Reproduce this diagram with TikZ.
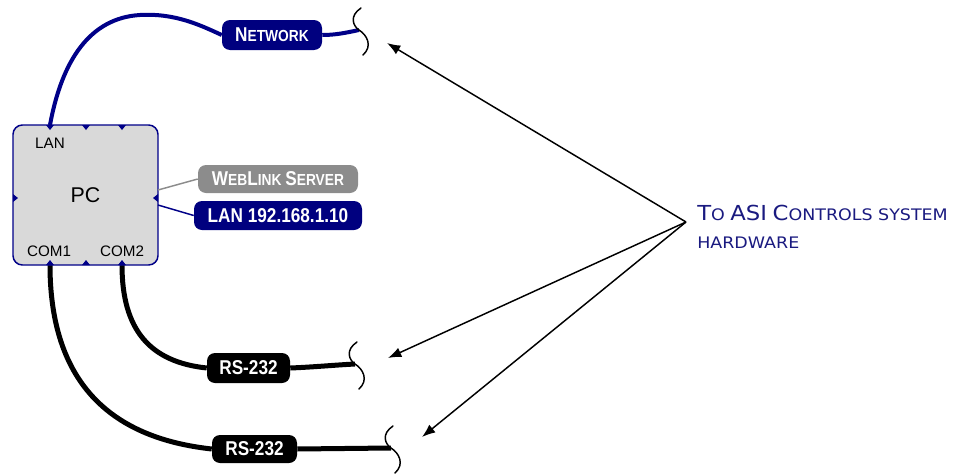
\documentclass[tikz,border=0pt]{standalone}
\usepackage{fontspec}
\setmainfont{Liberation Sans}
\newfontfamily\lblfont{Liberation Sans}[FakeStretch=0.86]
\newfontfamily\asifont{DejaVu Sans}[FakeStretch=1.1]
\usetikzlibrary{arrows.meta}
\definecolor{cablenavy}{HTML}{000088}
\definecolor{tagnavy}{HTML}{00007F}
\definecolor{taggray}{HTML}{8C8C8C}
\definecolor{pcfill}{HTML}{D9D9D9}
\definecolor{asitext}{HTML}{1A1A80}
\newcommand\Lg[1]{{\fontsize{15}{15}\selectfont#1}}
\newcommand\Bg[1]{{\fontsize{15.5}{21}\selectfont#1}}
\tikzset{
  tagbox/.style={rounded corners=6pt, text=white, inner sep=0pt,
    font=\lblfont\bfseries\fontsize{12}{12}\selectfont},
  navytag/.style={tagbox, fill=tagnavy},
  graytag/.style={tagbox, fill=taggray},
  blacktag/.style={tagbox, fill=black},
  pcbox/.style={draw=cablenavy, fill=pcfill, line width=1.1pt, rounded corners=7pt,
    font=\fontsize{16}{16}\selectfont},
  portlbl/.style={font=\fontsize{11.4}{12}\selectfont, inner sep=0pt},
  netcable/.style={draw=cablenavy, line width=3pt},
  sercable/.style={draw=black, line width=3.75pt},
  pointer/.style={draw=black, line width=1.1pt, -{Latex[length=10pt,width=7.5pt]}},
  squig/.pic={\draw[line width=1.1pt, line cap=round] (2,-22) .. controls (-10,-14) and (-6,-4) .. (0,0) .. controls (8,5) and (14,16) .. (4,25);},
  marker/.style={fill=cablenavy}
}
\begin{document}
\begin{tikzpicture}[x=0.75pt, y=-0.75pt]
\useasboundingbox (0,0) rectangle (965,475);

% ports and cable ends
\coordinate (lanport) at (50,125);
\coordinate (com1port) at (50,265);
\coordinate (com2port) at (122,265);
\coordinate (netend) at (359,30);
\coordinate (rs1end) at (355,364);
\coordinate (rs2end) at (391,448);
\coordinate (src) at (686,222);
\coordinate (tipnet) at (387,43);
\coordinate (tiprs1) at (388,358);
\coordinate (tiprs2) at (422,437);
\coordinate (pcright1) at (158,190);
\coordinate (pcright2) at (158,205);

% tags
\node[navytag, minimum width=75pt, minimum height=22.5pt] (net) at (272,35) {\Lg{N}ETWORK};
\node[graytag, minimum width=120pt, minimum height=21pt] (web) at (278,179) {\Lg{W}EB\Lg{L}INK \Lg{S}ERVER};
\node[navytag, minimum width=126pt, minimum height=21.75pt] (lan) at (278,215.5) {\Lg{LAN 192.168.1.10}};
\node[blacktag, minimum width=62.25pt, minimum height=22.5pt] (rs1) at (248.5,368) {\Lg{RS-232}};
\node[blacktag, minimum width=63.75pt, minimum height=21pt] (rs2) at (254.5,449) {\Lg{RS-232}};

% cables
\draw[netcable] (lanport) .. controls (62,60) and (90,18) .. (140,15) .. controls (175,13) and (200,25) .. (net.west);
\draw[netcable] (net.east) .. controls (335,35) and (345,33) .. (netend);
\draw[sercable] (com2port) .. controls (122,330) and (150,362) .. (rs1.west);
\draw[sercable] (rs1.east) .. controls (315,367) and (335,365) .. (rs1end);
\draw[sercable] (com1port) .. controls (50,400) and (130,440) .. (rs2.west);
\draw[sercable] (rs2.east) -- (rs2end);

% squiggles
\pic at (netend) {squig};
\pic at (rs1end) {squig};
\pic at (rs2end) {squig};

% PC box
\node[pcbox, minimum width=108.75pt, minimum height=105pt] (pc) at (85.5,195) {PC};
\foreach \x in {50,86,122} {
  \fill[marker] (\x-4,125) -- (\x+4,125) -- (\x,130) -- cycle;
  \fill[marker] (\x-4,265) -- (\x+4,265) -- (\x,260) -- cycle;
}
\fill[marker] (13,194) -- (13,202) -- (18,198) -- cycle;
\fill[marker] (158,194) -- (158,202) -- (153,198) -- cycle;
\node[portlbl] (lanlbl) at (50,143) {LAN};
\node[portlbl] (com1lbl) at (49,251) {COM1};
\node[portlbl] (com2lbl) at (122,251) {COM2};

% leaders to tags
\draw[taggray, line width=1.1pt] (pcright1) -- (web.west);
\draw[cablenavy, line width=1.1pt] (pcright2) -- (lan.west);

% pointers
\draw[pointer] (src) -- (tipnet);
\draw[pointer] (src) -- (tiprs1);
\draw[pointer] (src) -- (tiprs2);

% caption (base anchor = baseline of the last line)
\node[anchor=base west, align=left, inner sep=0pt, text=asitext,
  font=\asifont\fontsize{11.9}{21}\selectfont] (asi) at (697,248)
  {\Bg{T}O \Bg{ASI} \Bg{C}ONTROLS SYSTEM\\HARDWARE};
\end{tikzpicture}
\end{document}
